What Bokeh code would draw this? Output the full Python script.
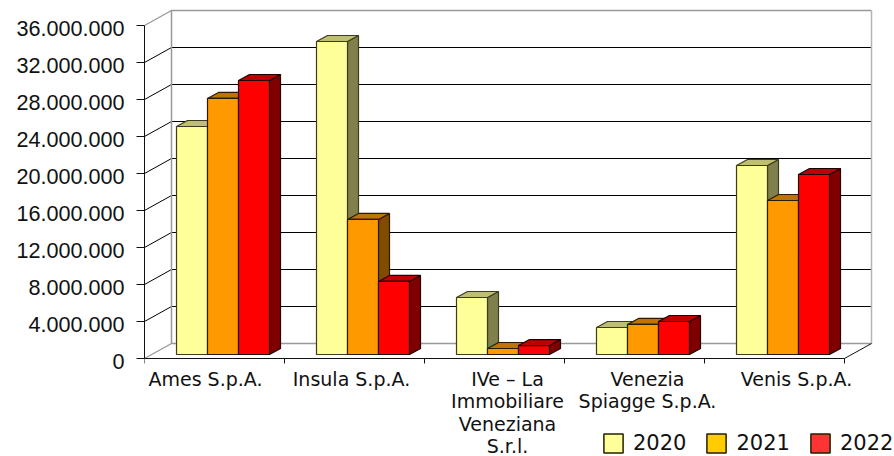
from bokeh.plotting import figure
from bokeh.models import Range1d, LinearAxis, FixedTicker, Legend, LegendItem
from bokeh.embed import file_html
from bokeh.resources import INLINE

categories = ["Ames S.p.A.", "Insula S.p.A.", "IVe – La\nImmobiliare\nVeneziana\nS.r.l.",
              "Venezia\nSpiagge S.p.A.", "Venis S.p.A."]
years = ["2020", "2021", "2022"]
v2020 = [24.65e6, 33.84e6, 6.16e6, 2.92e6, 20.43e6]
v2021 = [27.68e6, 14.6e6, 0.65e6, 3.25e6, 16.65e6]
v2022 = [29.62e6, 7.9e6, 0.97e6, 3.57e6, 19.46e6]
y_ticks = [0, 4e6, 8e6, 12e6, 16e6, 20e6, 24e6, 28e6, 32e6, 36e6]
y_labels = ["0", "4.000.000", "8.000.000", "12.000.000", "16.000.000", "20.000.000",
            "24.000.000", "28.000.000", "32.000.000", "36.000.000"]

front = ["#FFFF99", "#FF9900", "#FF0000"]
top_c = ["#BFBF73", "#BF7300", "#BF0000"]
side = ["#80804D", "#804D00", "#800000"]
edge = ["#3c3c20", "#2a1a00", "#200000"]
legend_c = ["#FFFF99", "#FFCC00", "#FF3333"]

PX_CAT = 140
PX_M = 333 / 36e6
LEFT = 144
FW, FH = 894 - LEFT, 456
Y_TOP = 358 / PX_M
Y_BOT = -98 / PX_M
WALL_DX = 27 / PX_CAT
WALL_DY = 15 / PX_M
BAR_DX = 11 / PX_CAT
BAR_DY = 6 / PX_M
BASE = 4 / PX_M
X0 = 32 / PX_CAT
BW = 31 / PX_CAT
LABEL_SHIFT = 3 / PX_M
LABEL_POS = [(205 - LEFT) / PX_CAT, (351 - LEFT) / PX_CAT, (507 - LEFT) / PX_CAT,
             (647 - LEFT) / PX_CAT, (796 - LEFT) / PX_CAT]

p = figure(width=894, height=456, frame_width=FW, frame_height=FH,
           x_range=Range1d(0, FW / PX_CAT), y_range=Range1d(Y_BOT, Y_TOP),
           output_backend="svg", toolbar_location=None,
           min_border_left=LEFT, min_border_top=0, min_border_right=0, min_border_bottom=0,
           outline_line_color=None, background_fill_color="white")
p.grid.visible = False

# walls
GRAY = "#999999"
xs, ys, cols, wid = [], [], [], []
for i, t in enumerate(y_ticks):
    xs.append([0, WALL_DX, 5 + WALL_DX])
    ys.append([t, t + WALL_DY, t + WALL_DY])
    is_edge = i in (0, len(y_ticks) - 1)
    cols.append(GRAY if is_edge else "#000000")
    wid.append(1.4 if is_edge else 1)
xs += [[WALL_DX, WALL_DX], [5 + WALL_DX, 5 + WALL_DX], [5, 5 + WALL_DX]]
ys += [[WALL_DY, 36e6 + WALL_DY], [WALL_DY, 36e6 + WALL_DY], [0, WALL_DY]]
cols += [GRAY, "#b5b5b5", "#111111"]
wid += [1.5, 1.5, 1]
p.multi_line(xs, ys, line_color=cols, line_width=wid)

# bars
series = [v2020, v2021, v2022]
for c in range(len(categories)):
    for s, vals in enumerate(series):
        v = vals[c]
        l = c + X0 + s * BW
        r = l + BW
        t = v + BASE
        p.patch([r, r + BAR_DX, r + BAR_DX, r], [BASE, BASE + BAR_DY, t + BAR_DY, t],
                fill_color=side[s], line_color=edge[s], line_width=1.2)
        p.patch([l, l + BAR_DX, r + BAR_DX, r], [t, t + BAR_DY, t + BAR_DY, t],
                fill_color=top_c[s], line_color=edge[s], line_width=1.2)
        p.quad(left=[l], right=[r], bottom=[BASE], top=[t],
               fill_color=front[s], line_color=edge[s], line_width=1.2)

# axes
ax = p.yaxis[0]
ax.bounds = (0, 36e6)
ax.ticker = FixedTicker(ticks=y_ticks)
ax.major_label_overrides = {t: "" for t in y_ticks}
ax.major_tick_in = 0
ax.major_tick_out = 8
ax.minor_tick_out = 0
ax.minor_tick_in = 0
ax.major_tick_line_color = "#111111"
ax.axis_line_color = "#111111"
ax.major_label_standoff = 0
ax.major_label_text_font_size = "1px"

p.extra_y_ranges = {"labels": Range1d(Y_BOT + LABEL_SHIFT, Y_TOP + LABEL_SHIFT)}
lab = LinearAxis(y_range_name="labels", ticker=FixedTicker(ticks=y_ticks),
                 major_label_overrides=dict(zip(y_ticks, y_labels)),
                 axis_line_color=None, major_tick_line_color=None, minor_tick_line_color=None,
                 major_tick_in=0, major_tick_out=0, minor_tick_in=0, minor_tick_out=0,
                 major_label_text_font="Liberation Sans", major_label_text_font_size="21.6px",
                 major_label_text_color="#111111", major_label_standoff=12)
p.add_layout(lab, "left")

xa = p.xaxis[0]
xa.fixed_location = 0
xa.bounds = (0, 5)
xa.ticker = FixedTicker(ticks=LABEL_POS, minor_ticks=[0, 1, 2, 3, 4, 5])
xa.major_label_overrides = dict(zip(LABEL_POS, categories))
xa.major_tick_in = 0
xa.major_tick_out = 0
xa.minor_tick_in = 0
xa.minor_tick_out = 5
xa.minor_tick_line_color = "#111111"
xa.axis_line_color = "#111111"
xa.major_label_text_font = "DejaVu Sans"
xa.major_label_text_font_size = "19px"
xa.major_label_text_color = "#111111"
xa.major_label_text_line_height = 1.03
xa.major_label_standoff = 4

# legend
items = []
for s, y in enumerate(years):
    r = p.quad(left=[float("nan")], right=[float("nan")], bottom=[float("nan")], top=[float("nan")],
               fill_color=legend_c[s], line_color="#222200", line_width=1.5)
    items.append(LegendItem(label=y, renderers=[r]))
leg = Legend(items=items, orientation="horizontal", location=(457, 1),
             background_fill_alpha=0, border_line_color=None, margin=0, padding=0,
             glyph_width=24, glyph_height=24, label_standoff=8, spacing=18,
             label_text_font="DejaVu Sans", label_text_font_size="21px",
             label_text_color="#111111", label_height=24)
p.add_layout(leg, "center")

open("out.html", "w").write(file_html(p, INLINE))
